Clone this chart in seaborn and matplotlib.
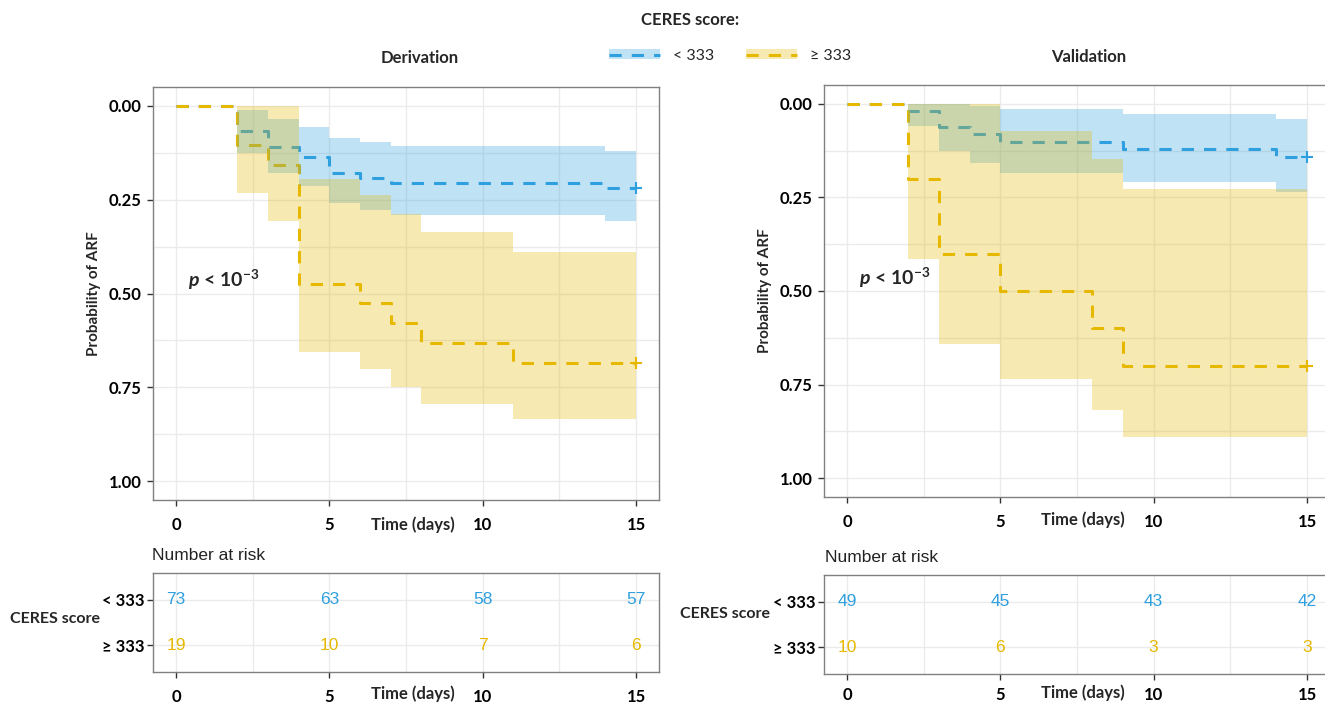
import numpy as np
import pandas as pd
import matplotlib
matplotlib.use("Agg")
import matplotlib.pyplot as plt
import seaborn as sns
from matplotlib.patches import Patch
from matplotlib.lines import Line2D
from matplotlib.ticker import MultipleLocator, FormatStrFormatter

# ---- data ----
groups = ["< 333", "\u2265 333"]
colors = ["#2E9FDF", "#E7B800"]
risk_times = [0, 5, 10, 15]

# Derivation, CERES < 333
der_lo_time = [0, 2, 3, 4, 5, 6, 7, 14, 15]
der_lo_prob = [0, 0.068, 0.110, 0.137, 0.178, 0.192, 0.205, 0.219, 0.219]
der_lo_low = [0, 0.011, 0.036, 0.057, 0.086, 0.097, 0.108, 0.120, 0.120]
der_lo_up = [0, 0.126, 0.178, 0.215, 0.260, 0.277, 0.290, 0.308, 0.308]
# Derivation, CERES >= 333
der_hi_time = [0, 2, 3, 4, 6, 7, 8, 11, 15]
der_hi_prob = [0, 0.105, 0.158, 0.474, 0.526, 0.579, 0.632, 0.684, 0.684]
der_hi_low = [0, 0.0, 0.0, 0.196, 0.237, 0.288, 0.335, 0.389, 0.389]
der_hi_up = [0, 0.233, 0.306, 0.655, 0.702, 0.748, 0.793, 0.835, 0.835]
# Validation, CERES < 333
val_lo_time = [0, 2, 3, 4, 5, 9, 14, 15]
val_lo_prob = [0, 0.020, 0.061, 0.082, 0.102, 0.122, 0.143, 0.143]
val_lo_low = [0, 0.0, 0.0, 0.005, 0.014, 0.027, 0.040, 0.040]
val_lo_up = [0, 0.060, 0.127, 0.157, 0.184, 0.210, 0.237, 0.237]
# Validation, CERES >= 333
val_hi_time = [0, 2, 3, 5, 8, 9, 15]
val_hi_prob = [0, 0.2, 0.4, 0.5, 0.6, 0.7, 0.7]
val_hi_low = [0, 0.0, 0.0, 0.072, 0.147, 0.228, 0.228]
val_hi_up = [0, 0.415, 0.642, 0.735, 0.818, 0.889, 0.889]

# number at risk
der_risk_lo = [73, 63, 58, 57]
der_risk_hi = [19, 10, 7, 6]
val_risk_lo = [49, 45, 43, 42]
val_risk_hi = [10, 6, 3, 3]

# ---- style ----
sns.set_theme(style="white")
plt.rcParams["font.family"] = ["Lato", "DejaVu Sans"]
plt.rcParams["mathtext.fontset"] = "custom"
plt.rcParams["mathtext.rm"] = "Lato:bold"
plt.rcParams["mathtext.it"] = "Lato:italic:bold"
plt.rcParams["mathtext.bf"] = "Lato:bold"

DASH = (0, (4, 3.3))
GRID = "#EBEBEB"
FRAME = "#808080"
ARIAL = ["Liberation Sans", "DejaVu Sans"]
TICK_FS = 12

W, H = 1325, 704
fig = plt.figure(figsize=(W / 100, H / 100), dpi=100)


def fx(px):
    return px / W


def fy(py):
    return 1 - py / H


def style_axes(ax):
    ax.set_facecolor("white")
    for s in ax.spines.values():
        s.set_color(FRAME)
        s.set_linewidth(1.0)
    ax.set_axisbelow(True)


def draw_curve(ax, time, prob, color):
    sns.lineplot(x=time, y=prob, ax=ax, color=color, estimator=None, sort=False,
                 drawstyle="steps-post", linewidth=2.2, linestyle=DASH,
                 legend=False, zorder=2)
    sns.scatterplot(x=[time[-1]], y=[prob[-1]], ax=ax, color=color, marker="+",
                    s=70, linewidth=1.5, legend=False, zorder=4)


def draw_band(ax, time, low, up, color):
    ax.fill_between(time, low, up, step="post", color=color, alpha=0.3,
                    linewidth=0, zorder=3)


def km_panel(rect, curves, title_xy, title):
    ax = fig.add_axes(rect)
    style_axes(ax)
    # lines first, bands on top (as in the reference)
    for (t, p, lo, up), c in zip(curves, colors):
        draw_curve(ax, t, p, c)
    for (t, p, lo, up), c in zip(curves, colors):
        draw_band(ax, t, lo, up, c)
    ax.set_xlim(-0.75, 15.75)
    ax.set_ylim(1.05, -0.05)
    ax.xaxis.set_major_locator(MultipleLocator(5))
    ax.xaxis.set_minor_locator(MultipleLocator(2.5))
    ax.yaxis.set_major_locator(MultipleLocator(0.25))
    ax.yaxis.set_minor_locator(MultipleLocator(0.125))
    ax.yaxis.set_major_formatter(FormatStrFormatter("%.2f"))
    ax.grid(which="both", color=GRID, linewidth=1.0)
    ax.tick_params(axis="both", which="major", length=4, width=1, color="#333333",
                   labelsize=TICK_FS, labelcolor="black", bottom=True, left=True)
    ax.tick_params(axis="x", pad=8)
    ax.tick_params(axis="y", pad=4)
    for lab in ax.get_xticklabels() + ax.get_yticklabels():
        lab.set_fontweight("bold")
    ax.set_xlabel("")
    ax.set_ylabel("Probability of ARF", fontsize=11, fontweight="bold", labelpad=6)
    ax.text(0.4, 0.465, r"$p$ < 10$^{-3}$", fontsize=14, fontweight="bold",
            ha="left", va="center")
    fig.text(fx(title_xy[0]), fy(title_xy[1]), title, fontsize=12,
             fontweight="bold", ha="center", va="center")
    return ax


def risk_panel(rect, lo_counts, hi_counts, nar_xy, ceres_xy, time_xy, xpad):
    ax = fig.add_axes(rect)
    style_axes(ax)
    df = pd.DataFrame({
        "time": risk_times * 2,
        "group": [1] * 4 + [2] * 4,
        "n": lo_counts + hi_counts,
        "color": [colors[0]] * 4 + [colors[1]] * 4,
    })
    for _, r in df.iterrows():
        ax.text(r["time"], r["group"], str(r["n"]), color=r["color"],
                fontsize=12.5, ha="center", va="center", family=ARIAL)
    ax.set_xlim(-0.75, 15.75)
    ax.set_ylim(2.6, 0.4)
    ax.xaxis.set_major_locator(MultipleLocator(5))
    ax.xaxis.set_minor_locator(MultipleLocator(2.5))
    ax.set_yticks([1, 2])
    ax.set_yticklabels(groups)
    ax.grid(which="both", color=GRID, linewidth=1.0)
    ax.tick_params(axis="both", which="major", length=4, width=1, color="#333333",
                   labelsize=TICK_FS, labelcolor="black", bottom=True, left=True)
    ax.tick_params(axis="x", pad=xpad)
    ax.tick_params(axis="y", pad=2)
    for lab in ax.get_xticklabels() + ax.get_yticklabels():
        lab.set_fontweight("bold")
    fig.text(fx(nar_xy[0]), fy(nar_xy[1]), "Number at risk", fontsize=12.5,
             ha="left", va="center", family=ARIAL, color="#222222")
    fig.text(fx(ceres_xy[0]), fy(ceres_xy[1]), "CERES score", fontsize=11.5,
             fontweight="bold", ha="left", va="center")
    fig.text(fx(time_xy[0]), fy(time_xy[1]), "Time (days)", fontsize=12,
             fontweight="bold", ha="center", va="center")
    return ax


# ---- Kaplan-Meier panels ----
der_curves = [(der_lo_time, der_lo_prob, der_lo_low, der_lo_up),
              (der_hi_time, der_hi_prob, der_hi_low, der_hi_up)]
val_curves = [(val_lo_time, val_lo_prob, val_lo_low, val_lo_up),
              (val_hi_time, val_hi_prob, val_hi_low, val_hi_up)]

km_panel([fx(153), fy(500), fx(506), 413 / H], der_curves, (420, 58), "Derivation")
km_panel([fx(824), fy(497), fx(506), 412 / H], val_curves, (1089, 57), "Validation")
fig.text(fx(413), fy(525), "Time (days)", fontsize=12, fontweight="bold",
         ha="center", va="center")
fig.text(fx(1083), fy(520), "Time (days)", fontsize=12, fontweight="bold",
         ha="center", va="center")

# ---- risk tables ----
risk_panel([fx(153), fy(672), fx(506), 99 / H], der_risk_lo, der_risk_hi,
           (152, 555), (10, 619), (413, 694), 8)
risk_panel([fx(824), fy(674), fx(506), 99 / H], val_risk_lo, val_risk_hi,
           (825, 558), (680, 614), (1083, 693), 5.5)

# ---- legend ----
handles = []
for c in colors:
    handles.append((Patch(facecolor=c, alpha=0.3, linewidth=0),
                    Line2D([], [], color=c, linewidth=2.2, linestyle=DASH)))
fig.legend(handles=handles, labels=groups, loc="center",
           bbox_to_anchor=(fx(730), fy(56)), ncol=2, frameon=False,
           handlelength=3.2, handleheight=0.6, handletextpad=0.8,
           columnspacing=2.0, fontsize=11.5)
fig.text(fx(690), fy(20), "CERES score:", fontsize=12, fontweight="bold",
         ha="center", va="center")

fig.savefig("out.png", dpi=100)
